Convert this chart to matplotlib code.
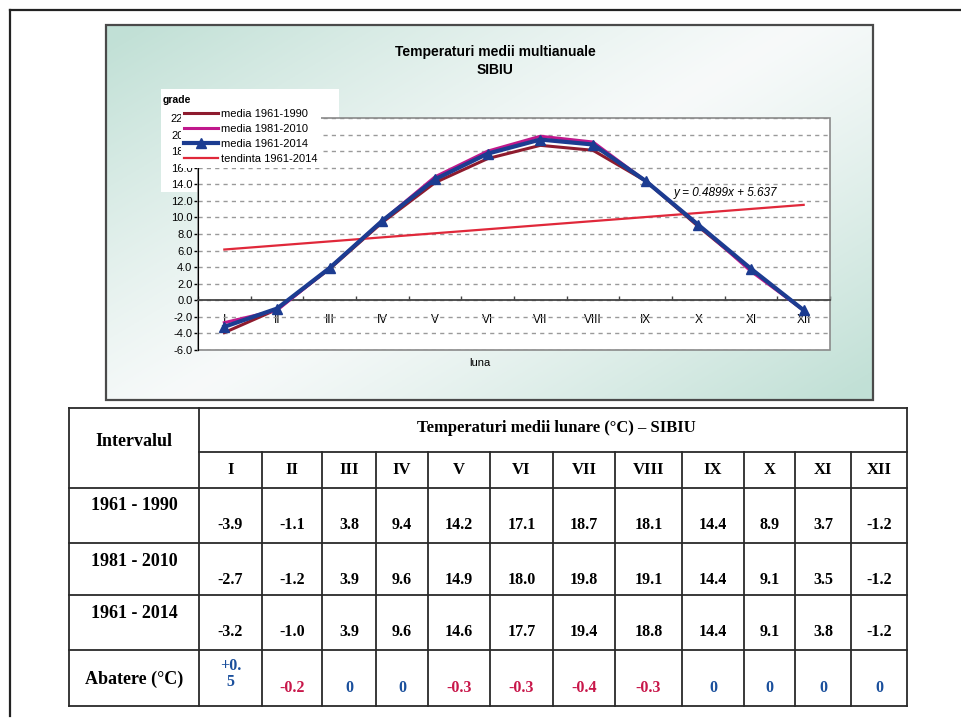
import matplotlib.pyplot as plt
import matplotlib.patches as mpatches
import numpy as np

# %%
# data (Sibiu monthly mean temperatures)
luni = ['I', 'II', 'III', 'IV', 'V', 'VI', 'VII', 'VIII', 'IX', 'X', 'XI', 'XII']
media_1961_1990 = [-3.9, -1.1, 3.8, 9.4, 14.2, 17.1, 18.7, 18.1, 14.4, 8.9, 3.7, -1.2]
media_1981_2010 = [-2.7, -1.2, 3.9, 9.6, 14.9, 18.0, 19.8, 19.1, 14.4, 9.1, 3.5, -1.2]
media_1961_2014 = [-3.2, -1.0, 3.9, 9.6, 14.6, 17.7, 19.4, 18.8, 14.4, 9.1, 3.8, -1.2]
abatere = [0.5, -0.2, 0, 0, -0.3, -0.3, -0.4, -0.3, 0, 0, 0, 0]
intervale = ['1961 - 1990', '1981 - 2010', '1961 - 2014']
# trend line equation printed on the chart
trend_panta = 0.4899
trend_interc = 5.637
y_ticks = list(range(-6, 23, 2))

plt.rcParams['font.family'] = ['Liberation Sans', 'DejaVu Sans']

W, H = 962, 720
fig = plt.figure(figsize=(W / 100, H / 100), dpi=100)

# background axes in pixel coords: frame, chart box, table
bg = fig.add_axes([0, 0, 1, 1], zorder=0)
bg.set_xlim(0, W)
bg.set_ylim(H, 0)
bg.axis('off')

# outer frame (top + left visible on the scan)
bg.plot([10, W], [10, 10], color='#222222', lw=1.6)
bg.plot([10, 10], [10, 716], color='#222222', lw=1.6)

# chart box with mint gradient
gx, gy = np.meshgrid(np.linspace(0, 1, 300), np.linspace(0, 1, 150))
t = gx * 0.55 + gy * 0.45
w = np.clip(np.abs(t - 0.5) * 2.1, 0, 1) ** 1.2
mint = np.array([0.76, 0.88, 0.84])
img = (1 - w[..., None]) * np.array([0.97, 0.98, 0.98]) + w[..., None] * mint
bg.imshow(img, extent=(106, 873, 400, 25), aspect='auto', zorder=0)
bg.add_patch(mpatches.Rectangle((106, 25), 767, 375, fill=False,
                                ec='#4a4a4a', lw=1.6, zorder=1))
bg.add_patch(mpatches.Rectangle((161, 89), 178, 103, fc='white', ec='none', zorder=1))

# %%
# chart
ax = fig.add_axes([198 / W, 1 - 350 / H, 632 / W, 232 / H], zorder=2)
x = np.arange(len(luni))
ax.plot(x, media_1961_1990, color='#8e1b2e', lw=2.2, label='media 1961-1990', zorder=3)
ax.plot(x, media_1981_2010, color='#c0188c', lw=2.2, label='media 1981-2010', zorder=3)
ax.plot(x, media_1961_2014, color='#1c3c91', lw=3, marker='^', ms=7,
        label='media 1961-2014', zorder=4)
xt = np.array([x[0], x[-1]])
ax.plot(xt, trend_panta * (xt + 1) + trend_interc, color='#e0283a', lw=1.6,
        label='tendinta 1961-2014', zorder=3)

ax.set_xlim(-0.5, 11.5)
ax.set_ylim(-6, 22)
ax.set_yticks(y_ticks)
ax.set_yticklabels([f'{v:.1f}' for v in y_ticks], fontsize=8)
ax.tick_params(axis='y', direction='out', length=3, pad=1, width=1)
ax.grid(axis='y', color='#9a9a9a', ls=(0, (3, 3)), lw=1)
ax.set_axisbelow(True)

ax.spines['bottom'].set_position(('data', 0))
ax.spines['bottom'].set_color('#444444')
ax.spines['bottom'].set_linewidth(1.3)
ax.spines['left'].set_color('black')
ax.spines['top'].set_visible(False)
ax.spines['right'].set_visible(False)
ax.add_patch(mpatches.Rectangle((0, 0), 1, 1, transform=ax.transAxes, fill=False,
                                ec='#8a8a8a', lw=1.2, clip_on=False, zorder=1))

ax.set_xticks(np.arange(-0.5, 12, 1))
ax.set_xticklabels([])
ax.tick_params(axis='x', which='major', direction='in', length=3, width=1, color='#444444')
ax.set_xticks(x, luni, minor=True)
ax.tick_params(axis='x', which='minor', length=0, pad=10, labelsize=8.5)

ax.text(0.752, 0.677, f'y = {trend_panta}x + {trend_interc}', transform=ax.transAxes,
        fontsize=8.5, style='italic', ha='left', va='center', zorder=5)

leg = ax.legend(loc='upper left', bbox_to_anchor=(181 / W, 1 - 106 / H),
                bbox_transform=fig.transFigure, fontsize=8, frameon=True,
                fancybox=False, facecolor='white', edgecolor='none', framealpha=1,
                handlelength=3, handletextpad=0.3, labelspacing=0.45,
                borderpad=0.3, borderaxespad=0)

fig.text(495 / W, 1 - 52 / H, 'Temperaturi medii multianuale', ha='center', va='center',
         fontsize=10, fontweight='bold')
fig.text(495 / W, 1 - 70 / H, 'SIBIU', ha='center', va='center',
         fontsize=10, fontweight='bold')
fig.text(163 / W, 1 - 100 / H, 'grade', ha='left', va='center', fontsize=7.5, fontweight='bold')
fig.text(480 / W, 1 - 363 / H, 'luna', ha='center', va='center', fontsize=8)

# %%
# table under the chart
cols = [69, 199, 262, 322, 376, 428, 490, 553, 615, 682, 744, 795, 851, 907]
rows = [408, 452, 488, 543, 595, 650, 706]
lc = '#2a2a2a'
serif = ['Liberation Serif', 'DejaVu Serif']

bg.plot([cols[0], cols[-1]], [rows[0], rows[0]], color=lc, lw=1.3)
bg.plot([cols[1], cols[-1]], [rows[1], rows[1]], color=lc, lw=1.3)
for r in rows[2:]:
    bg.plot([cols[0], cols[-1]], [r, r], color=lc, lw=1.3)
for c in (cols[0], cols[1], cols[-1]):
    bg.plot([c, c], [rows[0], rows[-1]], color=lc, lw=1.3)
for c in cols[2:-1]:
    bg.plot([c, c], [rows[1], rows[-1]], color=lc, lw=1.3)

cx0 = (cols[0] + cols[1]) / 2
bg.text(cx0, (rows[0] + rows[2]) / 2 - 6, 'Intervalul', ha='center', va='center',
        fontsize=13, fontweight='bold', family=serif)
bg.text((cols[1] + cols[-1]) / 2 + 3, (rows[0] + rows[1]) / 2 - 2,
        'Temperaturi medii lunare (°C) – SIBIU', ha='center', va='center',
        fontsize=12, fontweight='bold', family=serif)

centers = [(cols[i] + cols[i + 1]) / 2 for i in range(1, len(cols) - 1)]
for cx, lun in zip(centers, luni):
    bg.text(cx, (rows[1] + rows[2]) / 2, lun, ha='center', va='center',
            fontsize=12, fontweight='bold', family=serif)

for k, (nume, serie) in enumerate(zip(intervale, [media_1961_1990, media_1981_2010, media_1961_2014])):
    top = rows[2 + k]
    bg.text(cx0, top + 18, nume, ha='center', va='center',
            fontsize=13, fontweight='bold', family=serif)
    for cx, v in zip(centers, serie):
        bg.text(cx, top + 37, f'{v:.1f}', ha='center', va='center',
                fontsize=11.5, fontweight='bold', family=serif)

top = rows[5]
bg.text(cx0, top + 29, 'Abatere (°C)', ha='center', va='center',
        fontsize=13, fontweight='bold', family=serif)
for cx, v in zip(centers, abatere):
    if v > 0:
        bg.text(cx, top + 24, f'{v:+.1f}'.replace('.', '.\n'), ha='center', va='center',
                fontsize=11.5, fontweight='bold', family=serif, color='#1a4f9c',
                linespacing=1.0)
    elif v < 0:
        bg.text(cx, top + 38, f'{v:.1f}', ha='center', va='center',
                fontsize=11.5, fontweight='bold', family=serif, color='#c8174a')
    else:
        bg.text(cx, top + 38, '0', ha='center', va='center',
                fontsize=11.5, fontweight='bold', family=serif, color='#1a4f9c')

fig.savefig('out.png', dpi=100)
